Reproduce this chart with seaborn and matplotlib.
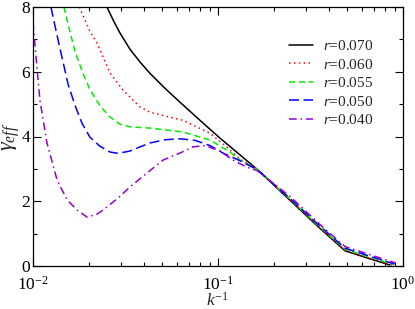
import numpy as np
import pandas as pd
import matplotlib
matplotlib.use("Agg")
import matplotlib.pyplot as plt
import seaborn as sns

# ---- data ----
labels = ["0.070", "0.060", "0.055", "0.050", "0.040"]

x_070 = [0.0251, 0.0271, 0.0295, 0.0334, 0.0379, 0.0429, 0.0504, 0.0530, 0.0623, 0.0799,
         0.1025, 0.1625, 0.245, 0.356, 0.486, 0.639, 0.850]
y_070 = [8.0, 7.6, 7.2, 6.7, 6.3, 5.95, 5.55, 5.43, 5.06, 4.50,
         3.95, 2.99, 2.03, 1.16, 0.47, 0.25, 0.03]

x_060 = [0.0178, 0.0203, 0.0222, 0.0261, 0.0307, 0.0379, 0.0429, 0.0504, 0.0647, 0.0905,
         0.1118, 0.1315, 0.1625, 0.245, 0.356, 0.486, 0.639, 0.880]
y_060 = [8.0, 7.25, 6.88, 5.96, 5.43, 4.91, 4.75, 4.65, 4.50, 4.10,
         3.67, 3.30, 3.00, 2.05, 1.18, 0.49, 0.27, 0.03]

x_055 = [0.0147, 0.0159, 0.0169, 0.0186, 0.0203, 0.0230, 0.0261, 0.0295, 0.0334, 0.0429,
         0.0647, 0.0905, 0.1161, 0.1315, 0.1625, 0.245, 0.356, 0.486, 0.639, 0.890]
y_055 = [8.0, 7.2, 6.6, 5.96, 5.45, 4.95, 4.60, 4.38, 4.30, 4.26,
         4.14, 3.89, 3.52, 3.27, 2.99, 2.07, 1.20, 0.52, 0.30, 0.05]

x_050 = [0.0125, 0.0134, 0.0144, 0.0155, 0.0169, 0.0184, 0.0203, 0.0230, 0.0261, 0.0288,
         0.0334, 0.0379, 0.0429, 0.0517, 0.0623, 0.0751, 0.0905, 0.1064, 0.1315, 0.1625,
         0.245, 0.356, 0.486, 0.639, 0.900]
y_050 = [8.0, 7.2, 6.4, 5.6, 4.95, 4.41, 3.98, 3.70, 3.52, 3.48,
         3.55, 3.68, 3.80, 3.90, 3.93, 3.88, 3.72, 3.49, 3.25, 2.98,
         2.09, 1.23, 0.55, 0.33, 0.06]

x_040 = [0.0100, 0.0105, 0.0109, 0.0119, 0.0135, 0.0153, 0.0173, 0.0196, 0.0222, 0.0251,
         0.0295, 0.0334, 0.0413, 0.0504, 0.0623, 0.0733, 0.0851, 0.1025, 0.1205, 0.1435,
         0.1625, 0.245, 0.356, 0.486, 0.639, 0.905]
y_040 = [7.53, 6.14, 5.12, 3.80, 2.65, 2.04, 1.73, 1.51, 1.60, 1.82,
         2.15, 2.44, 2.87, 3.27, 3.49, 3.68, 3.72, 3.55, 3.27, 3.05,
         2.95, 2.15, 1.28, 0.60, 0.38, 0.10]

xs = [x_070, x_060, x_055, x_050, x_040]
ys = [y_070, y_060, y_055, y_050, y_040]

frames = []
for lab, xv, yv in zip(labels, xs, ys):
    frames.append(pd.DataFrame({"x": xv, "y": yv, "r": lab}))
df = pd.concat(frames, ignore_index=True)

sns.set_theme(style="ticks")
plt.rcParams["font.family"] = ["Liberation Serif", "DejaVu Serif"]
plt.rcParams["mathtext.fontset"] = "custom"
plt.rcParams["mathtext.rm"] = "Liberation Serif"
plt.rcParams["mathtext.it"] = "Liberation Serif:italic"
plt.rcParams["mathtext.bf"] = "Liberation Serif:bold"

palette = {"0.070": "#000000", "0.060": "#ff0000", "0.055": "#00ee00",
           "0.050": "#0000ff", "0.040": "#9400d3"}
dashes = {"0.070": "", "0.060": (1, 2.2), "0.055": (4, 2.5),
          "0.050": (6.5, 3), "0.040": (5, 2.5, 1, 2.5)}

fig = plt.figure(figsize=(4.15, 3.09), dpi=100)
ax = fig.add_axes([33 / 415, 43 / 309, 370 / 415, 259 / 309])

sns.lineplot(data=df, x="x", y="y", hue="r", style="r", palette=palette,
             dashes=dashes, hue_order=labels, style_order=labels,
             sort=False, estimator=None, units="r", linewidth=1.1, ax=ax, legend=False)

ax.set_xscale("log")
ax.set_xlim(0.01, 1.0)
ax.set_ylim(0, 8)
ax.set_yticks([0, 2, 4, 6, 8])
ax.set_yticks([1, 3, 5, 7], minor=True)
ax.set_xticks([0.01, 0.1, 1.0])
ax.set_xticklabels([r"$10^{-2}$", r"$10^{-1}$", r"$10^{0}$"])
ax.tick_params(which="both", direction="in", top=True, right=True, labelsize=12.5,
               colors="black", width=0.8)
ax.tick_params(which="major", length=5.5)
ax.tick_params(which="minor", length=3)
ax.tick_params(axis="y", which="major", pad=2)
ax.tick_params(axis="x", which="major", pad=7)
for s in ax.spines.values():
    s.set_linewidth(0.9)
    s.set_color("black")

ax.set_xlabel(r"$k^{-1}$", fontsize=12.5)
ax.xaxis.set_label_coords(0.5, -0.1)
ax.set_ylabel(r"$\gamma_{eff}$", fontsize=16)
ax.yaxis.set_label_coords(-0.03, 0.5)

handles = [matplotlib.lines.Line2D([], [], color=palette[l],
           linestyle=(0, dashes[l]) if dashes[l] else "-", linewidth=1.1) for l in labels]
leg = ax.legend(handles, [r"$r$=" + l for l in labels], loc="upper left",
                bbox_to_anchor=(0.692, 0.875), frameon=False, fontsize=11,
                handlelength=1.55, labelspacing=0.29, handletextpad=0.65,
                borderpad=0, borderaxespad=0)

fig.savefig("out.png", dpi=100)
